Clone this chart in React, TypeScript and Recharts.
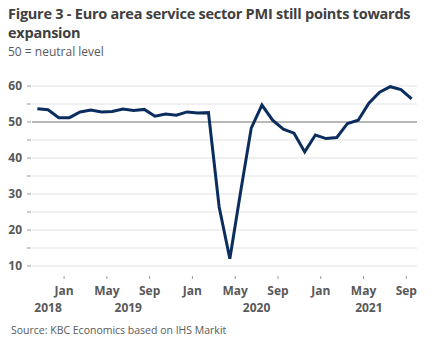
import { LineChart, Line, XAxis, YAxis, CartesianGrid, ReferenceLine } from "recharts";

// Euro area services PMI, Oct 2018 - Sep 2021
const months = [
    "Oct 2018", "Nov 2018", "Dec 2018",
    "Jan 2019", "Feb 2019", "Mar 2019", "Apr 2019", "May 2019", "Jun 2019",
    "Jul 2019", "Aug 2019", "Sep 2019", "Oct 2019", "Nov 2019", "Dec 2019",
    "Jan 2020", "Feb 2020", "Mar 2020", "Apr 2020", "May 2020", "Jun 2020",
    "Jul 2020", "Aug 2020", "Sep 2020", "Oct 2020", "Nov 2020", "Dec 2020",
    "Jan 2021", "Feb 2021", "Mar 2021", "Apr 2021", "May 2021", "Jun 2021",
    "Jul 2021", "Aug 2021", "Sep 2021",
];
const pmi = [
    53.7, 53.4, 51.2,
    51.2, 52.8, 53.3, 52.8, 52.9, 53.6,
    53.2, 53.5, 51.6, 52.2, 51.9, 52.8,
    52.5, 52.6, 26.4, 12.0, 30.5, 48.3,
    54.7, 50.5, 48.0, 46.9, 41.7, 46.4,
    45.4, 45.7, 49.6, 50.5, 55.2, 58.3,
    59.8, 59.0, 56.4,
];
const monthTicks = ["Jan 2019", "May 2019", "Sep 2019", "Jan 2020", "May 2020", "Sep 2020", "Jan 2021", "May 2021", "Sep 2021"];
const years = ["2018", "2019", "2020", "2021"];
const yTicks = [10, 15, 20, 25, 30, 35, 40, 45, 50, 55, 60];

const data = months.map((m, i) => ({ idx: i, month: m, pmi: pmi[i] }));

// month ticks sit on the boundary before the month, years in the middle of their months
const monthPos = monthTicks.map((m) => months.indexOf(m) - 0.5);
const yearPos = years.map((y) => {
    const idx = months.map((m, i) => (m.endsWith(y) ? i : -1)).filter((i) => i >= 0);
    return (idx[0] + idx[idx.length - 1]) / 2;
});
const xTicks = [...monthPos, ...yearPos].sort((a, b) => a - b);

const font = "'Open Sans', sans-serif";
const grey = "#595959";

function XTick(props: any) {
    const { x, y, payload } = props;
    const v = payload.value;
    const mi = monthPos.indexOf(v);
    if (mi >= 0) {
        return (
            <g>
                <line x1={x} x2={x} y1={y + 8} y2={y + 11} stroke="#999" />
                <text x={x} y={y + 27} textAnchor="middle" fill={grey} fontSize={12} fontWeight="bold" fontFamily={font}>
                    {monthTicks[mi].split(" ")[0]}
                </text>
            </g>
        );
    }
    const yi = yearPos.indexOf(v);
    return (
        <text x={x} y={y + 44} textAnchor="middle" fill={grey} fontSize={12} fontWeight="bold" fontFamily={font}>
            {years[yi]}
        </text>
    );
}

function YTick(props: any) {
    const { x, y, payload } = props;
    return (
        <g>
            <line x1={x - 5} x2={x - 1} y1={y} y2={y} stroke="#999" />
            {payload.value % 10 === 0 && (
                <text x={x - 10} y={y + 4} textAnchor="end" fill={grey} fontSize={12} fontWeight="bold" fontFamily={font}>
                    {payload.value}
                </text>
            )}
        </g>
    );
}

export default function App() {
    return (
        <div style={{ position: "absolute", left: 0, top: 0, width: 432, height: 350, background: "#fff", fontFamily: font }}>
            <div style={{ position: "absolute", left: 8, top: 4, width: 424, fontSize: 14.5, letterSpacing: -0.25, fontWeight: "bold", color: "#404040", lineHeight: "19px" }}>
                Figure 3 - Euro area service sector PMI still points towards expansion
            </div>
            <div style={{ position: "absolute", left: 8, top: 43, fontSize: 12, color: grey }}>50 = neutral level</div>
            <LineChart width={432} height={350} data={data} margin={{ top: 86, right: 15, bottom: 0, left: 0 }}>
                <CartesianGrid vertical={false} stroke="#e2e2e2" />
                <XAxis
                    dataKey="idx"
                    type="number"
                    domain={[-0.5, 35.5]}
                    ticks={xTicks}
                    interval={0}
                    axisLine={false}
                    tickLine={false}
                    tickSize={0}
                    tick={<XTick />}
                    height={84}
                />
                <YAxis
                    domain={[10, 60]}
                    ticks={yTicks}
                    interval={0}
                    axisLine={false}
                    tickLine={false}
                    tickSize={0}
                    tickMargin={0}
                    width={32}
                    tick={<YTick />}
                />
                <ReferenceLine y={50} stroke="#808080" />
                <Line dataKey="pmi" stroke="#0b2d5e" strokeWidth={3} dot={false} isAnimationActive={false} />
            </LineChart>
            <div style={{ position: "absolute", left: 11, top: 323, fontSize: 10.5, color: grey }}>Source: KBC Economics based on IHS Markit</div>
        </div>
    );
}
